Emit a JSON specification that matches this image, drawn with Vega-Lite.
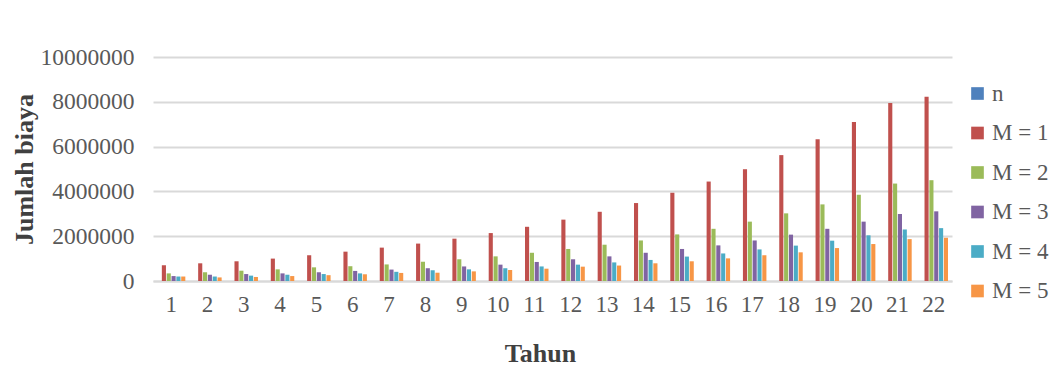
{
  "$schema": "https://vega.github.io/schema/vega-lite/v6.json",
  "width": 799,
  "height": 224,
  "autosize": "none",
  "padding": {"left": 153, "top": 57, "right": 102, "bottom": 95},
  "background": "white",
  "data": {
    "values": [
      {"Tahun": 1, "n": 1, "M = 1": 700000, "M = 2": 340000, "M = 3": 220000, "M = 4": 200000, "M = 5": 200000},
      {"Tahun": 2, "n": 2, "M = 1": 790000, "M = 2": 390000, "M = 3": 280000, "M = 4": 200000, "M = 5": 160000},
      {"Tahun": 3, "n": 3, "M = 1": 880000, "M = 2": 460000, "M = 3": 310000, "M = 4": 240000, "M = 5": 180000},
      {"Tahun": 4, "n": 4, "M = 1": 1000000, "M = 2": 520000, "M = 3": 340000, "M = 4": 280000, "M = 5": 220000},
      {"Tahun": 5, "n": 5, "M = 1": 1150000, "M = 2": 610000, "M = 3": 390000, "M = 4": 310000, "M = 5": 260000},
      {"Tahun": 6, "n": 6, "M = 1": 1310000, "M = 2": 660000, "M = 3": 450000, "M = 4": 340000, "M = 5": 300000},
      {"Tahun": 7, "n": 7, "M = 1": 1490000, "M = 2": 740000, "M = 3": 510000, "M = 4": 410000, "M = 5": 360000},
      {"Tahun": 8, "n": 8, "M = 1": 1670000, "M = 2": 860000, "M = 3": 570000, "M = 4": 480000, "M = 5": 370000},
      {"Tahun": 9, "n": 9, "M = 1": 1890000, "M = 2": 970000, "M = 3": 650000, "M = 4": 520000, "M = 5": 430000},
      {"Tahun": 10, "n": 10, "M = 1": 2140000, "M = 2": 1100000, "M = 3": 730000, "M = 4": 570000, "M = 5": 490000},
      {"Tahun": 11, "n": 11, "M = 1": 2420000, "M = 2": 1260000, "M = 3": 850000, "M = 4": 650000, "M = 5": 550000},
      {"Tahun": 12, "n": 12, "M = 1": 2740000, "M = 2": 1430000, "M = 3": 970000, "M = 4": 730000, "M = 5": 640000},
      {"Tahun": 13, "n": 13, "M = 1": 3090000, "M = 2": 1620000, "M = 3": 1100000, "M = 4": 830000, "M = 5": 690000},
      {"Tahun": 14, "n": 14, "M = 1": 3480000, "M = 2": 1810000, "M = 3": 1260000, "M = 4": 940000, "M = 5": 790000},
      {"Tahun": 15, "n": 15, "M = 1": 3940000, "M = 2": 2080000, "M = 3": 1430000, "M = 4": 1090000, "M = 5": 880000},
      {"Tahun": 16, "n": 16, "M = 1": 4440000, "M = 2": 2330000, "M = 3": 1590000, "M = 4": 1230000, "M = 5": 1010000},
      {"Tahun": 17, "n": 17, "M = 1": 4990000, "M = 2": 2650000, "M = 3": 1810000, "M = 4": 1410000, "M = 5": 1150000},
      {"Tahun": 18, "n": 18, "M = 1": 5620000, "M = 2": 3020000, "M = 3": 2070000, "M = 4": 1580000, "M = 5": 1280000},
      {"Tahun": 19, "n": 19, "M = 1": 6330000, "M = 2": 3420000, "M = 3": 2330000, "M = 4": 1800000, "M = 5": 1470000},
      {"Tahun": 20, "n": 20, "M = 1": 7100000, "M = 2": 3850000, "M = 3": 2650000, "M = 4": 2040000, "M = 5": 1650000},
      {"Tahun": 21, "n": 21, "M = 1": 7950000, "M = 2": 4350000, "M = 3": 2990000, "M = 4": 2300000, "M = 5": 1870000},
      {"Tahun": 22, "n": 22, "M = 1": 8220000, "M = 2": 4500000, "M = 3": 3110000, "M = 4": 2360000, "M = 5": 1930000}
    ]
  },
  "transform": [
    {"fold": ["n", "M = 1", "M = 2", "M = 3", "M = 4", "M = 5"], "as": ["seri", "biaya"]}
  ],
  "mark": {"type": "bar"},
  "encoding": {
    "x": {
      "field": "Tahun",
      "type": "ordinal",
      "scale": {"paddingInner": 0.22, "paddingOuter": 0.11},
      "axis": {
        "title": "Tahun",
        "labelAngle": 0,
        "labelFontSize": 23,
        "labelColor": "#595959",
        "labelPadding": 12,
        "ticks": false,
        "domain": true,
        "domainColor": "#d9d9d9",
        "domainWidth": 2,
        "titleFontSize": 26,
        "titleFontWeight": "bold",
        "titleColor": "#404040",
        "titlePadding": 24,
        "titleX": 387
      }
    },
    "xOffset": {
      "field": "seri",
      "type": "nominal",
      "sort": ["n", "M = 1", "M = 2", "M = 3", "M = 4", "M = 5"],
      "scale": {"paddingInner": 0.15}
    },
    "y": {
      "field": "biaya",
      "type": "quantitative",
      "scale": {"domain": [0, 10000000]},
      "axis": {
        "title": "Jumlah biaya",
        "values": [0, 2000000, 4000000, 6000000, 8000000, 10000000],
        "format": "d",
        "labelFontSize": 23.5,
        "labelColor": "#595959",
        "labelPadding": 19,
        "ticks": false,
        "domain": false,
        "grid": true,
        "gridColor": "#d9d9d9",
        "gridWidth": 2,
        "titleFontSize": 26,
        "titleFontWeight": "bold",
        "titleColor": "#404040",
        "titlePadding": 3
      }
    },
    "color": {
      "field": "seri",
      "type": "nominal",
      "sort": ["n", "M = 1", "M = 2", "M = 3", "M = 4", "M = 5"],
      "scale": {
        "domain": ["n", "M = 1", "M = 2", "M = 3", "M = 4", "M = 5"],
        "range": ["#4F81BD", "#C0504D", "#9BBB59", "#8064A2", "#4BACC6", "#F79646"]
      },
      "legend": {
        "title": null,
        "orient": "none",
        "legendX": 813,
        "legendY": 25,
        "symbolType": "square",
        "symbolSize": 160,
        "symbolStrokeWidth": 0,
        "labelFontSize": 23,
        "labelColor": "#595959",
        "labelOffset": 3,
        "rowPadding": 15.5
      }
    }
  },
  "config": {
    "view": {"stroke": null},
    "font": "Liberation Serif"
  }
}
